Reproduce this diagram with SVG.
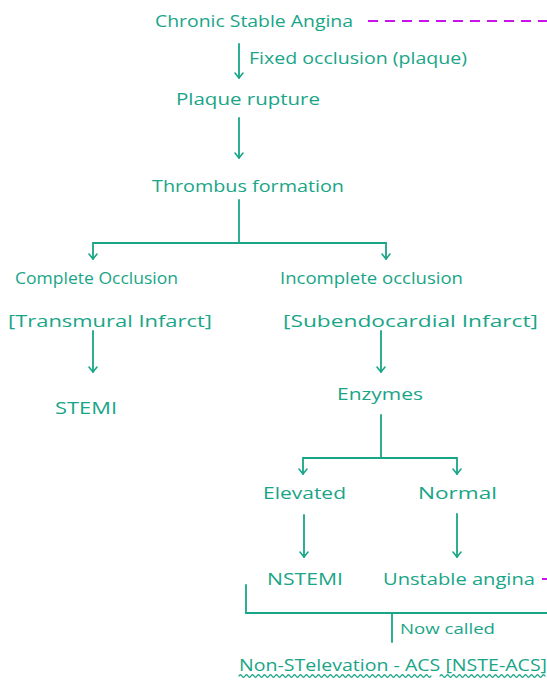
<svg xmlns="http://www.w3.org/2000/svg" width="547" height="682" viewBox="0 0 547 682">
<defs>
<marker id="ah" viewBox="0 0 10 10" refX="9" refY="5" markerWidth="10" markerHeight="10" markerUnits="userSpaceOnUse" orient="auto-start-reverse">
<polyline points="4,1 9,5 4,9" fill="none" stroke="#19a587" stroke-width="1.6" stroke-linecap="round" stroke-linejoin="round"/>
</marker>
<style>
text{font-family:"Open Sans","Liberation Sans",sans-serif;fill:#19a587;font-size:17px}
.sm{font-size:14px}
.ln{stroke:#19a587;stroke-width:1.8;fill:none;stroke-linecap:round}
.mg{stroke:#c814e8;stroke-width:2;fill:none;stroke-dasharray:10,7}
</style>
</defs>
<rect width="547" height="682" fill="#ffffff"/>
<g id="connectors">
<line class="mg" x1="368" y1="21" x2="547" y2="21"/>
<line class="mg" x1="542" y1="579" x2="547" y2="579" style="stroke-dasharray:none"/>
<line class="ln" x1="239" y1="44" x2="239" y2="78" marker-end="url(#ah)"/>
<line class="ln" x1="239" y1="118" x2="239" y2="158" marker-end="url(#ah)"/>
<polyline class="ln" points="239,200 239,243"/>
<polyline class="ln" points="93,259 93,243 386,243 386,259" marker-start="url(#ah)" marker-end="url(#ah)"/>
<line class="ln" x1="93" y1="331" x2="93" y2="372" marker-end="url(#ah)"/>
<line class="ln" x1="381" y1="331" x2="381" y2="372" marker-end="url(#ah)"/>
<polyline class="ln" points="381,415 381,458"/>
<polyline class="ln" points="303,474 303,458 457,458 457,474" marker-start="url(#ah)" marker-end="url(#ah)"/>
<line class="ln" x1="304" y1="515" x2="304" y2="557" marker-end="url(#ah)"/>
<line class="ln" x1="457" y1="514" x2="457" y2="557" marker-end="url(#ah)"/>
<polyline class="ln" points="246,585 246,613 547,613"/>
<line class="ln" x1="392" y1="613" x2="392" y2="642"/>
<path class="ln" style="stroke-width:1.3" d="M239,676 q1.5,-2.5 3,0 t3,0 t3,0 t3,0 t3,0 t3,0 t3,0 t3,0 t3,0 t3,0 t3,0 t3,0 t3,0 t3,0 t3,0 t3,0 t3,0 t3,0 t3,0 t3,0 t3,0 t3,0 t3,0 t3,0 t3,0 t3,0 t3,0 t3,0 t3,0 t3,0 t3,0 t3,0 t3,0 t3,0 t3,0 t3,0 t3,0 t3,0 t3,0 t3,0 t3,0 t3,0 t3,0 t3,0 t3,0 t3,0 t3,0 t3,0 t3,0 t3,0 t3,0 t3,0 t3,0 t3,0 t3,0 t3,0 t3,0 t3,0 t3,0 t3,0 t3,0 t3,0 t3,0 t3,0"/>
<path class="ln" style="stroke-width:1.3" d="M440,676 q1.5,-2.5 3,0 t3,0 t3,0 t3,0 t3,0 t3,0 t3,0 t3,0 t3,0 t3,0 t3,0 t3,0 t3,0 t3,0 t3,0 t3,0 t3,0 t3,0 t3,0 t3,0 t3,0 t3,0 t3,0 t3,0 t3,0 t3,0 t3,0 t3,0 t3,0 t3,0 t3,0 t3,0 t3,0 t3,0 t3,0"/>
</g>
<g id="n-chronic"><text x="155" y="27" textLength="198" lengthAdjust="spacingAndGlyphs">Chronic Stable Angina</text></g>
<g id="e-fixed"><text x="249" y="64" textLength="218" lengthAdjust="spacingAndGlyphs">Fixed occlusion (plaque)</text></g>
<g id="n-plaque"><text x="176" y="105" textLength="144" lengthAdjust="spacingAndGlyphs">Plaque rupture</text></g>
<g id="n-thrombus"><text x="152" y="192" textLength="192" lengthAdjust="spacingAndGlyphs">Thrombus formation</text></g>
<g id="n-complete">
<text x="15" y="284" textLength="163" lengthAdjust="spacingAndGlyphs">Complete Occlusion</text>
<text x="8" y="327" textLength="204" lengthAdjust="spacingAndGlyphs">[Transmural Infarct]</text>
</g>
<g id="n-incomplete">
<text x="280" y="284" textLength="183" lengthAdjust="spacingAndGlyphs">Incomplete occlusion</text>
<text x="283" y="327" textLength="255" lengthAdjust="spacingAndGlyphs">[Subendocardial Infarct]</text>
</g>
<g id="n-stemi"><text x="55" y="414" textLength="62" lengthAdjust="spacingAndGlyphs">STEMI</text></g>
<g id="n-enzymes"><text x="337" y="400" textLength="86" lengthAdjust="spacingAndGlyphs">Enzymes</text></g>
<g id="n-elevated"><text x="263" y="499" textLength="83" lengthAdjust="spacingAndGlyphs">Elevated</text></g>
<g id="n-normal"><text x="418" y="499" textLength="79" lengthAdjust="spacingAndGlyphs">Normal</text></g>
<g id="n-nstemi"><text x="267" y="585" textLength="76" lengthAdjust="spacingAndGlyphs">NSTEMI</text></g>
<g id="n-unstable"><text x="383" y="585" textLength="152" lengthAdjust="spacingAndGlyphs">Unstable angina</text></g>
<g id="e-now"><text class="sm" x="400" y="634" textLength="95" lengthAdjust="spacingAndGlyphs">Now called</text></g>
<g id="n-nsteacs"><text x="239" y="671" textLength="308" lengthAdjust="spacingAndGlyphs">Non-STelevation - ACS [NSTE-ACS]</text></g>
</svg>
